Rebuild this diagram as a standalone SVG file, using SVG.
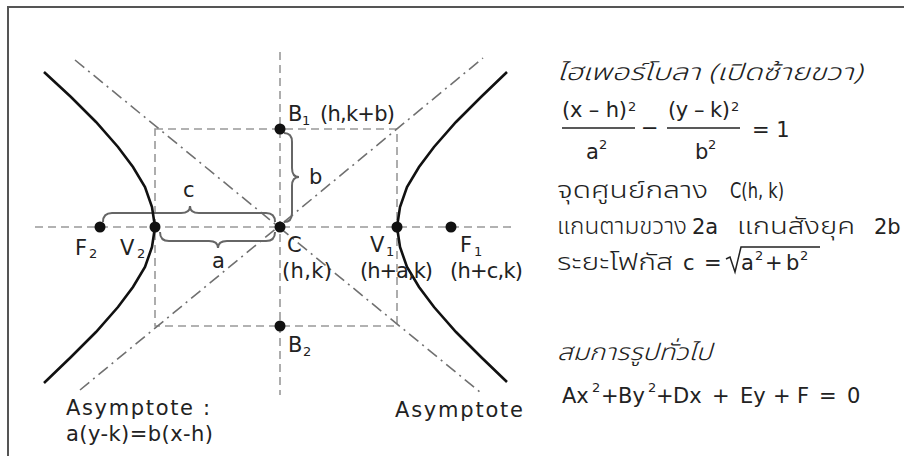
<svg xmlns="http://www.w3.org/2000/svg" width="904" height="456" viewBox="0 0 904 456">
<style>
.t{font-family:"DejaVu Sans","Liberation Sans",sans-serif;font-size:21px;fill:#222}
.s{font-family:"DejaVu Sans","Liberation Sans",sans-serif;font-size:13px;fill:#222}
.m{font-family:"DejaVu Sans","Liberation Sans",sans-serif;font-size:21px;fill:#222}
.th{font-family:"Noto Sans Thai","Noto Sans","Liberation Sans",sans-serif;font-size:23px;font-weight:350;fill:#222}
.it{font-style:italic}
.dash{fill:none;stroke:#999;stroke-width:1.6;stroke-dasharray:8 5}
.dd{fill:none;stroke:#707070;stroke-width:1.6;stroke-dasharray:12 5 2 5}
.br{fill:none;stroke:#666;stroke-width:2}
.hyp{fill:none;stroke:#111;stroke-width:2.6}
.dot{fill:#111}
.bar{stroke:#222;stroke-width:1.5}
.rad{fill:none;stroke:#222;stroke-width:1.5}
</style>
<rect width="904" height="456" fill="#fff"/>
<path d="M8,456 V7 H904" fill="none" stroke="#555" stroke-width="2"/>

<g id="guides">
<line class="dash" x1="35" y1="227" x2="512" y2="227"/>
<line class="dash" x1="280" y1="52" x2="280" y2="395"/>
<rect class="dash" x="155" y="129" width="242" height="197"/>
<line class="dd" x1="75" y1="60" x2="480" y2="392"/>
<line class="dd" x1="80" y1="390" x2="483" y2="58"/>
</g>

<g id="connectors">
<path class="br" d="M103,222 Q103,213 112,213 H181 Q190,213 190,206 Q190,213 199,213 H266 Q275,213 275,222"/>
<path class="br" d="M160,232 Q160,241 169,241 H209 Q218,241 218,248 Q218,241 227,241 H266 Q275,241 275,232"/>
<path class="br" d="M284,133 Q292,133 292,142 V168 Q292,177 299,177 Q292,177 292,186 V213 Q292,222 284,222"/>
</g>

<g id="hyperbola-left">
<path class="hyp" d="M44,72 L71,97 L96,122 L118,147 L133,167 L145,187 L152,207 L155,227 L152,247 L145,267 L133,287 L118,307 L96,332 L71,357 L44,383"/>
</g>
<g id="hyperbola-right">
<path class="hyp" d="M507,72 L481,97 L456,122 L434,147 L419,167 L407,187 L400,207 L397,227 L400,247 L407,267 L419,287 L434,307 L456,332 L481,357 L507,382"/>
</g>

<g id="center"><circle class="dot" cx="280" cy="227" r="5.5"/>
<text class="t" x="287" y="252">C</text>
<text class="t" x="282" y="278" textLength="50">(h,k)</text></g>
<g id="B1"><circle class="dot" cx="280" cy="129" r="5.5"/>
<text class="t" x="288" y="121">B</text><text class="s" x="302" y="125">1</text>
<text class="t" x="320" y="121" textLength="75">(h,k+b)</text></g>
<g id="B2"><circle class="dot" cx="280" cy="326" r="5.5"/>
<text class="t" x="288" y="352">B</text><text class="s" x="303" y="356">2</text></g>
<g id="V1"><circle class="dot" cx="397" cy="227" r="5.5"/>
<text class="t" x="370" y="252">V</text><text class="s" x="386" y="256">1</text>
<text class="t" x="360" y="278" textLength="73">(h+a,k)</text></g>
<g id="V2"><circle class="dot" cx="155" cy="227" r="5.5"/>
<text class="t" x="120" y="255">V</text><text class="s" x="137" y="258">2</text></g>
<g id="F1"><circle class="dot" cx="451" cy="227" r="5.5"/>
<text class="t" x="460" y="252">F</text><text class="s" x="474" y="256">1</text>
<text class="t" x="450" y="278" textLength="73">(h+c,k)</text></g>
<g id="F2"><circle class="dot" cx="100" cy="227" r="5.5"/>
<text class="t" x="75" y="255">F</text><text class="s" x="89" y="258">2</text></g>

<g id="labels">
<text class="t" x="183" y="197">c</text>
<text class="t" x="212" y="268">a</text>
<text class="t" x="309" y="184">b</text>
<text class="t" x="395" y="417" font-size="23" textLength="128">Asymptote</text>
<text class="t" x="66" y="415" font-size="23" textLength="144">Asymptote :</text>
<text class="t" x="66" y="441" font-size="22" textLength="147">a(y-k)=b(x-h)</text>
</g>

<g id="info">
<text class="th it" x="557" y="80" textLength="305" lengthAdjust="spacingAndGlyphs">ไฮเพอร์โบลา (เปิดซ้ายขวา)</text>
<text class="m" x="562" y="117" font-size="20" textLength="65">(x – h)</text><text class="s" x="628" y="111">2</text>
<line class="bar" x1="562" y1="128" x2="635" y2="128"/>
<text class="m" x="586" y="159" font-size="20">a</text><text class="s" x="599" y="149">2</text>
<text class="m" x="641" y="135" font-size="20">−</text>
<text class="m" x="668" y="117" font-size="20" textLength="62">(y – k)</text><text class="s" x="731" y="111">2</text>
<line class="bar" x1="667" y1="128" x2="740" y2="128"/>
<text class="m" x="695" y="159" font-size="20">b</text><text class="s" x="708" y="149">2</text>
<text class="m" x="752" y="137" font-size="20">= 1</text>

<text class="th" x="557" y="198" textLength="151" lengthAdjust="spacingAndGlyphs">จุดศูนย์กลาง</text>
<text class="m" x="730" y="198" textLength="54" lengthAdjust="spacingAndGlyphs">C(h, k)</text>
<text class="th" x="557" y="234" textLength="130" lengthAdjust="spacingAndGlyphs">แกนตามขวาง</text>
<text class="m" x="692" y="234">2a</text>
<text class="th" x="737" y="234" textLength="118" lengthAdjust="spacingAndGlyphs">แกนสังยุค</text>
<text class="m" x="874" y="234">2b</text>
<text class="th" x="557" y="270" textLength="116" lengthAdjust="spacingAndGlyphs">ระยะโฟกัส</text>
<text class="m" x="683" y="270">c</text>
<text class="m" x="704" y="270">=</text>
<path class="rad" d="M726,259 L730,257 L735,272 L741,247 H820"/>
<text class="m" x="741" y="270">a</text><text class="s" x="755" y="260">2</text>
<text class="m" x="765" y="270">+</text>
<text class="m" x="786" y="270">b</text><text class="s" x="800" y="260">2</text>

<text class="th it" x="557" y="360" textLength="155" lengthAdjust="spacingAndGlyphs">สมการรูปทั่วไป</text>
<text class="m" x="562" y="403" font-size="22">Ax</text><text class="s" x="592" y="392">2</text>
<text class="m" x="601" y="403" font-size="22">+</text>
<text class="m" x="618" y="403" font-size="22">By</text><text class="s" x="648" y="392">2</text>
<text class="m" x="656" y="403" font-size="22">+</text>
<text class="m" x="673" y="403" font-size="22">Dx</text>
<text class="m" x="712" y="403" font-size="22">+</text>
<text class="m" x="740" y="403" font-size="22">Ey</text>
<text class="m" x="773" y="403" font-size="22">+</text>
<text class="m" x="797" y="403" font-size="22">F</text>
<text class="m" x="819" y="403" font-size="22">=</text>
<text class="m" x="847" y="403" font-size="22">0</text>
</g>
</svg>
